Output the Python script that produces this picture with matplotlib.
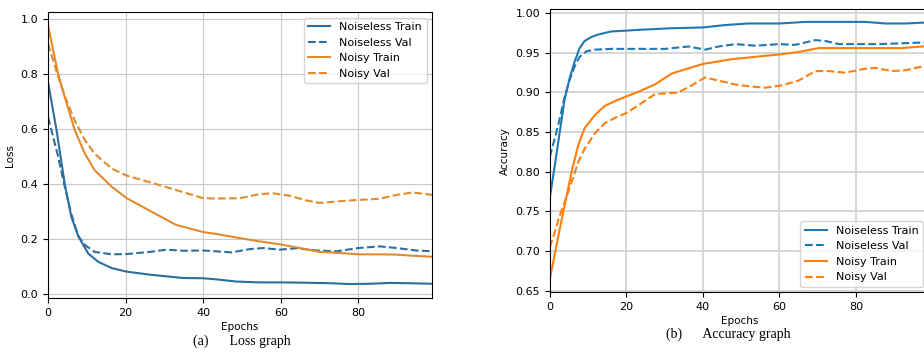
import matplotlib
matplotlib.use("Agg")
import matplotlib.pyplot as plt

# Loss graph
loss_clean_train_ep = [0, 2.2, 4.3, 6, 7.8, 10.3, 12.9, 16.4, 20.3, 26.3, 34.8, 40, 43.4, 48.6, 54.6, 60,
                       65.8, 72.6, 77.8, 82.9, 88, 93.2, 99]
loss_clean_train = [0.77, 0.595, 0.40, 0.28, 0.21, 0.148, 0.117, 0.094, 0.081, 0.070, 0.058, 0.057, 0.053,
                    0.045, 0.042, 0.042, 0.041, 0.039, 0.036, 0.037, 0.040, 0.039, 0.037]

loss_clean_val_ep = [0, 2.6, 4.3, 6, 7.8, 9.5, 12, 16.4, 20.3, 26.3, 30.6, 34.8, 40, 43.4, 47.3, 52, 55.5,
                     59.7, 64, 69.2, 74.3, 80, 85.5, 89.8, 94.9, 99]
loss_clean_val = [0.643, 0.50, 0.39, 0.29, 0.21, 0.178, 0.153, 0.144, 0.145, 0.153, 0.161, 0.157, 0.158,
                  0.155, 0.151, 0.163, 0.167, 0.161, 0.166, 0.158, 0.155, 0.167, 0.173, 0.167, 0.158, 0.155]

loss_noisy_train_ep = [0, 2.6, 4.3, 6.9, 9.5, 12, 16.4, 20.3, 26.3, 33, 40, 43.4, 49.4, 54.6, 60, 64.9,
                       70, 75.2, 80, 85.5, 89.8, 94, 99]
loss_noisy_train = [0.976, 0.80, 0.716, 0.595, 0.51, 0.45, 0.39, 0.348, 0.302, 0.251, 0.225, 0.218, 0.203,
                    0.191, 0.180, 0.167, 0.153, 0.149, 0.144, 0.144, 0.143, 0.139, 0.135]

loss_noisy_val_ep = [0, 2.6, 4.3, 6.9, 9.5, 12, 16.4, 20.3, 26.3, 33, 40, 43.4, 49.4, 54.6, 58, 62.3,
                     66.6, 70, 75.2, 80, 85.5, 89.8, 94, 99]
loss_noisy_val = [0.91, 0.79, 0.72, 0.63, 0.56, 0.51, 0.456, 0.43, 0.406, 0.378, 0.348, 0.347, 0.348,
                  0.363, 0.366, 0.357, 0.340, 0.331, 0.337, 0.342, 0.346, 0.360, 0.369, 0.360]

# Accuracy graph
acc_clean_train_ep = [0, 1.3, 2.6, 3.9, 5.2, 6.5, 7.8, 9.1, 10.9, 12.6, 16.1, 20, 23.2, 31.9, 40, 45.8,
                      51.9, 60, 66.8, 72, 77.7, 82.5, 87.7, 92.9, 97.3, 99]
acc_clean_train = [0.767, 0.808, 0.85, 0.892, 0.918, 0.939, 0.956, 0.965, 0.970, 0.973, 0.977, 0.978,
                   0.979, 0.981, 0.982, 0.985, 0.987, 0.987, 0.989, 0.989, 0.989, 0.989, 0.987, 0.987,
                   0.988, 0.988]

acc_clean_val_ep = [0, 1.3, 2.6, 3.9, 5.2, 6.5, 7.8, 9.6, 11.7, 16.1, 20, 23.2, 30.1, 36.3, 40.6, 44.1,
                    48.5, 53.7, 60, 64.1, 69.4, 72, 75.5, 80, 85.9, 92, 97.3, 99]
acc_clean_val = [0.819, 0.842, 0.867, 0.895, 0.916, 0.933, 0.945, 0.952, 0.954, 0.955, 0.955, 0.955,
                 0.955, 0.958, 0.954, 0.958, 0.961, 0.959, 0.961, 0.960, 0.966, 0.965, 0.961, 0.961,
                 0.961, 0.962, 0.963, 0.963]

acc_noisy_train_ep = [0, 1.3, 2.6, 3.9, 5.7, 7.4, 9.1, 11.7, 14.3, 17.4, 20, 23.2, 27.4, 31.9, 40, 47.6,
                      53.7, 60, 65, 70.3, 73.7, 80, 85.9, 92, 97.3, 99]
acc_noisy_train = [0.665, 0.696, 0.728, 0.758, 0.80, 0.833, 0.855, 0.871, 0.883, 0.89, 0.895, 0.901,
                   0.91, 0.924, 0.936, 0.942, 0.945, 0.948, 0.951, 0.956, 0.956, 0.956, 0.956, 0.956,
                   0.958, 0.958]

acc_noisy_val_ep = [0, 1.3, 2.6, 3.9, 5.7, 7.4, 9.1, 11.7, 14.3, 17.4, 20, 23.2, 27.5, 33.6, 37.1, 40.6,
                    44.1, 48.5, 51.9, 56.3, 60.7, 65, 69.4, 72.9, 77.2, 82.5, 85.1, 89.4, 92.9, 97.5, 99]
acc_noisy_val = [0.705, 0.724, 0.745, 0.762, 0.787, 0.812, 0.829, 0.848, 0.861, 0.869, 0.874, 0.884,
                 0.898, 0.900, 0.909, 0.919, 0.915, 0.910, 0.908, 0.906, 0.909, 0.915, 0.927, 0.927,
                 0.925, 0.930, 0.931, 0.927, 0.928, 0.933, 0.933]

labels = ["Noiseless Train", "Noiseless Val", "Noisy Train", "Noisy Val"]

fig = plt.figure(figsize=(9.24, 3.54), dpi=100)

# left panel, colours a bit muted like the scanned original
ax1 = fig.add_axes([0.052, 0.158, 0.4156, 0.808])
c_blue, c_orange = "#2c6f9e", "#e38b2c"
ax1.plot(loss_clean_train_ep, loss_clean_train, color=c_blue, lw=1.5, label=labels[0])
ax1.plot(loss_clean_val_ep, loss_clean_val, color=c_blue, lw=1.5, ls="--", label=labels[1])
ax1.plot(loss_noisy_train_ep, loss_noisy_train, color=c_orange, lw=1.5, label=labels[2])
ax1.plot(loss_noisy_val_ep, loss_noisy_val, color=c_orange, lw=1.5, ls="--", label=labels[3])
ax1.set_xlim(0, 99)
ax1.set_ylim(-0.015, 1.025)
ax1.grid(True, color="#c8c8c8", lw=0.8)
ax1.tick_params(labelsize=8)
ax1.set_xlabel("Epochs", fontsize=7.5, labelpad=3)
ax1.set_ylabel("Loss", fontsize=7.5)
ax1.legend(loc="upper right", fontsize=8)

# right panel, runs off the right edge like the reference
ax2 = fig.add_axes([0.595, 0.174, 0.41, 0.80])
ax2.plot(acc_clean_train_ep, acc_clean_train, color="tab:blue", lw=1.5, label=labels[0])
ax2.plot(acc_clean_val_ep, acc_clean_val, color="tab:blue", lw=1.5, ls="--", label=labels[1])
ax2.plot(acc_noisy_train_ep, acc_noisy_train, color="tab:orange", lw=1.5, label=labels[2])
ax2.plot(acc_noisy_val_ep, acc_noisy_val, color="tab:orange", lw=1.5, ls="--", label=labels[3])
ax2.set_xlim(0, 99)
ax2.set_ylim(0.648, 1.005)
ax2.set_yticks([0.65, 0.70, 0.75, 0.80, 0.85, 0.90, 0.95, 1.00])
ax2.grid(True, color="#d0d0d0", lw=1.2)
ax2.tick_params(labelsize=8)
ax2.set_xlabel("Epochs", fontsize=7.5, labelpad=3)
ax2.set_ylabel("Accuracy", fontsize=7.5)
ax2.legend(loc="lower right", fontsize=8)

# captions under the panels
fig.text(0.209, 0.026, "(a)      Loss graph", family="Liberation Serif", fontsize=10)
fig.text(0.721, 0.045, "(b)      Accuracy graph", family="Liberation Serif", fontsize=10)

fig.savefig("out.png", dpi=100)
